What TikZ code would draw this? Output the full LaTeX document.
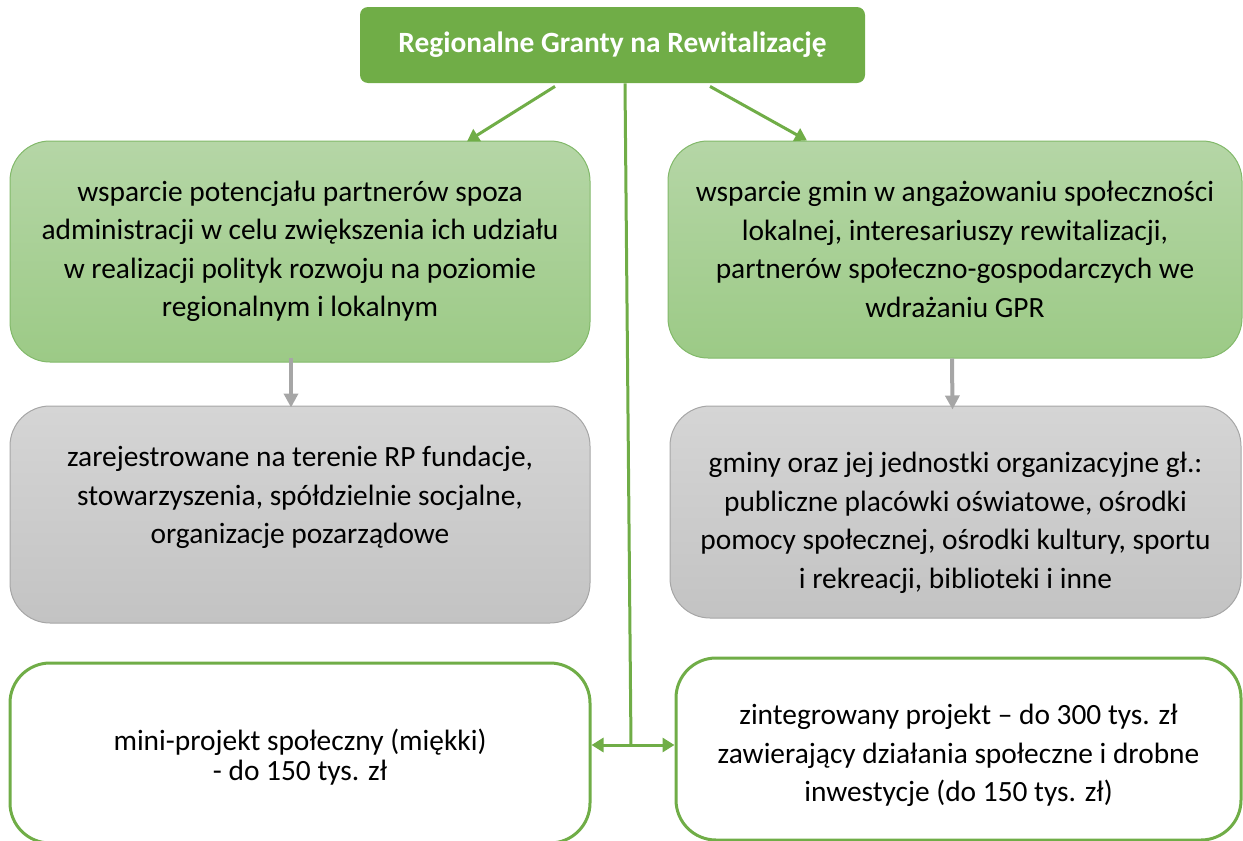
\documentclass[tikz,border=0pt]{standalone}
\usepackage{fontspec}
\setmainfont{Carlito}
\usepackage{tikz}
\usetikzlibrary{positioning,arrows.meta,calc}

\definecolor{topgreen}{HTML}{70AD47}
\definecolor{lightgreen}{HTML}{B5D6A6}
\definecolor{midgreen}{HTML}{9CCA86}
\definecolor{edgegreen}{HTML}{82B96A}
\definecolor{lightgrey}{HTML}{D5D5D5}
\definecolor{midgrey}{HTML}{C3C3C3}
\definecolor{edgegrey}{HTML}{A6A6A6}

\tikzset{
  every box/.style={align=center, inner sep=0pt, font=\fontsize{14.7}{19.25}\selectfont},
  title box/.style={every box, fill=topgreen, rounded corners=4pt, text=white, font=\fontsize{14.7}{19.25}\selectfont\bfseries},
  goal box/.style={every box, top color=lightgreen, bottom color=midgreen, draw=edgegreen, line width=0.5pt, rounded corners=20pt},
  who box/.style={every box, top color=lightgrey, bottom color=midgrey, draw=edgegrey, line width=0.5pt, rounded corners=20pt},
  grant box/.style={every box, fill=white, draw=topgreen, line width=1.5pt, rounded corners=20pt},
  green arrow/.style={draw=topgreen, line width=1.5pt, -{Triangle[length=6pt,width=7pt]}},
  grey arrow/.style={draw=edgegrey, line width=2pt, -{Triangle[length=7pt,width=7pt]}}
}

\begin{document}
\begin{tikzpicture}[x=0.5pt, y=-0.5pt]

		\useasboundingbox (0,0) rectangle (1243,841);

		\node [title box, minimum width=252.5pt, minimum height=38pt] (title) at (612.5,45) {Regionalne Granty na Rewitalizację};

		\node [goal box, minimum width=290pt, minimum height=110.5pt] (goal-1) at (300,251.5)
		{wsparcie potencjału partnerów spoza\\administracji w celu zwiększenia ich udziału\\w realizacji polityk rozwoju na poziomie\\regionalnym i lokalnym};
		\node [goal box, minimum width=287pt, minimum height=108.5pt] (goal-2) at (955,249.5)
		{wsparcie gmin w angażowaniu społeczności\\lokalnej, interesariuszy rewitalizacji,\\partnerów społeczno-gospodarczych we\\wdrażaniu GPR};

		\node [who box, minimum width=290pt, minimum height=108.5pt] (who-1) at (300,514.5)
		{zarejestrowane na terenie RP fundacje,\\stowarzyszenia, spółdzielnie socjalne,\\organizacje pozarządowe\\\mbox{}};
		\node [who box, minimum width=285.5pt, minimum height=106pt] (who-2) at (955.5,512)
		{\rule{0pt}{21pt}gminy oraz jej jednostki organizacyjne gł.:\\publiczne placówki oświatowe, ośrodki\\pomocy społecznej, ośrodki kultury, sportu\\i rekreacji, biblioteki i inne};

		\node [grant box, minimum width=290pt, minimum height=90pt] (grant-1) at (300,753)
		{\rule{0pt}{15pt}mini-projekt społeczny (miękki)\\[-4pt]- do 150 tys. zł};
		\node [grant box, minimum width=282.5pt, minimum height=91pt] (grant-2) at (958.5,749)
		{\rule{0pt}{17pt}zintegrowany projekt -- do 300 tys. zł\\zawierający działania społeczne i drobne\\inwestycje (do 150 tys. zł)};

		% green connectors
		\draw [green arrow] ($(title.south)+(-57.5,3)$) -- ($(goal-1.north)+(167,1)$);
		\draw [green arrow] ($(title.south)+(97.5,3)$) -- ($(goal-2.north)+(-148,0)$);

		\coordinate (hub) at (631,745);
		\draw [draw=topgreen, line width=1.5pt] ($(title.south)+(12.5,0)$) -- (hub);
		\draw [green arrow] (hub) -- (grant-1.east |- hub);
		\draw [green arrow] (hub) -- (grant-2.west |- hub);

		% grey connectors
		\draw [grey arrow] ($(goal-1.south)+(-9,-5)$) -- ($(who-1.north)+(-9,2)$);
		\draw [grey arrow] ($(goal-2.south)+(-3,0)$) -- ($(who-2.north)+(-3,4)$);

\end{tikzpicture}
\end{document}
